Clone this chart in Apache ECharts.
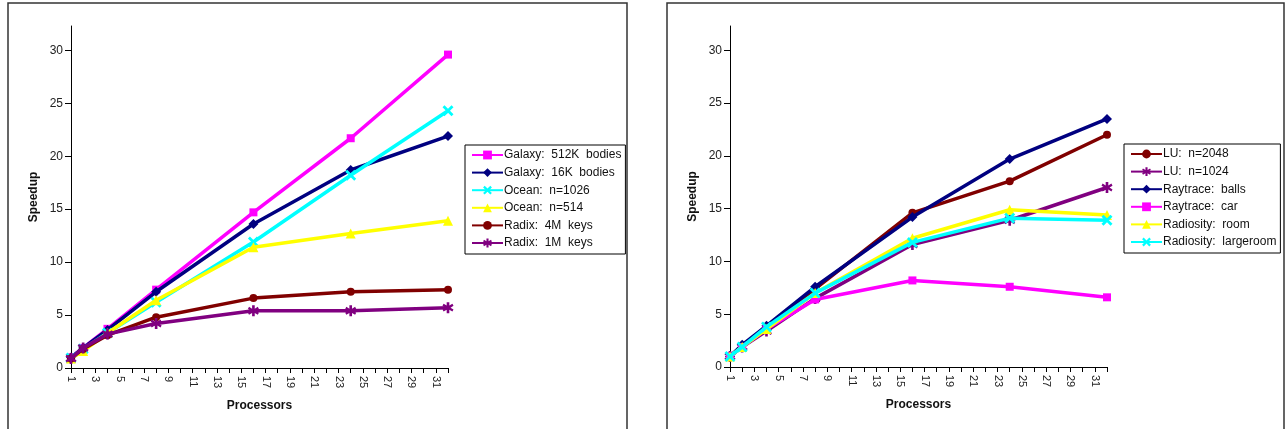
<!DOCTYPE html>
<html>
<head>
<meta charset="utf-8">
<script src="https://cdn.jsdelivr.net/npm/echarts@6/dist/echarts.min.js"></script>
<style>
html,body{margin:0;padding:0;background:#fff;}
#chart{width:1286px;height:429px;}
</style>
</head>
<body>
<div id="chart"></div>
<script>
// ---- data ----
const processors = [1, 2, 4, 8, 16, 24, 32];

const leftNames = ['Galaxy:  512K  bodies', 'Galaxy:  16K  bodies', 'Ocean:  n=1026', 'Ocean:  n=514', 'Radix:  4M  keys', 'Radix:  1M  keys'];
const galaxy512K = [1.0, 1.9, 3.7, 7.4, 14.7, 21.7, 29.6];
const galaxy16K  = [1.0, 1.9, 3.6, 7.2, 13.6, 18.7, 21.9];
const ocean1026  = [0.95, 1.8, 3.3, 6.2, 11.9, 18.2, 24.3];
const ocean514   = [0.9, 1.6, 3.3, 6.4, 11.4, 12.7, 13.9];
const radix4M    = [0.9, 1.8, 3.1, 4.8, 6.6, 7.2, 7.4];
const radix1M    = [0.9, 1.9, 3.2, 4.2, 5.4, 5.4, 5.7];

const rightNames = ['LU:  n=2048', 'LU:  n=1024', 'Raytrace:  balls', 'Raytrace:  car', 'Radiosity:  room', 'Radiosity:  largeroom'];
const lu2048        = [1.0, 2.0, 3.8, 7.4, 14.6, 17.6, 22.0];
const lu1024        = [1.0, 1.9, 3.4, 6.5, 11.6, 13.9, 17.0];
const raytraceBalls = [1.0, 2.1, 3.9, 7.6, 14.2, 19.7, 23.5];
const raytraceCar   = [1.0, 1.9, 3.6, 6.4, 8.2, 7.6, 6.6];
const radiosityRoom = [1.0, 1.9, 3.6, 7.0, 12.2, 14.9, 14.4];
const radiosityLarge= [1.0, 1.9, 3.8, 7.0, 11.8, 14.1, 13.9];

const yTicks = [0, 5, 10, 15, 20, 25, 30];
const xLabels = [1, 3, 5, 7, 9, 11, 13, 15, 17, 19, 21, 23, 25, 27, 29, 31];

// ---- styles ----
const FONT = '"Liberation Sans", Arial, sans-serif';
const SYM_X = 'path://M0,1.8 L1.8,0 L5,3.2 L8.2,0 L10,1.8 L6.8,5 L10,8.2 L8.2,10 L5,6.8 L1.8,10 L0,8.2 L3.2,5 Z';
const SYM_STAR = 'path://M3.8,0 L6.2,0 L6.2,3.1 L9,1.4 L10,3.3 L7.3,5 L10,6.7 L9,8.6 L6.2,6.9 L6.2,10 L3.8,10 L3.8,6.9 L1,8.6 L0,6.7 L2.7,5 L0,3.3 L1,1.4 L3.8,3.1 Z';

const leftStyles = [
  {color: '#FF00FF', symbol: 'rect', size: 8},
  {color: '#000080', symbol: 'diamond', size: 10},
  {color: '#00FFFF', symbol: SYM_X, size: 11},
  {color: '#FFFF00', symbol: 'triangle', size: 10},
  {color: '#800000', symbol: 'circle', size: 8},
  {color: '#800080', symbol: SYM_STAR, size: 11}
];
const rightStyles = [
  {color: '#800000', symbol: 'circle', size: 8},
  {color: '#800080', symbol: SYM_STAR, size: 11},
  {color: '#000080', symbol: 'diamond', size: 10},
  {color: '#FF00FF', symbol: 'rect', size: 8},
  {color: '#FFFF00', symbol: 'triangle', size: 10},
  {color: '#00FFFF', symbol: SYM_X, size: 11}
];
const leftData = [galaxy512K, galaxy16K, ocean1026, ocean514, radix4M, radix1M];
const rightData = [lu2048, lu1024, raytraceBalls, raytraceCar, radiosityRoom, radiosityLarge];

function mkSeries(names, datas, styles, idx) {
  return names.map((n, i) => ({
    name: n,
    type: 'line',
    xAxisIndex: idx, yAxisIndex: idx,
    data: processors.map((p, k) => [p, datas[i][k]]),
    symbol: styles[i].symbol,
    symbolSize: styles[i].size,
    showAllSymbol: true,
    lineStyle: {color: styles[i].color, width: 3.5},
    itemStyle: {color: styles[i].color},
    emphasis: {disabled: true},
    animation: false,
    z: 2 + i
  }));
}

function xAxis(idx) {
  return {
    type: 'value', gridIndex: idx, min: 1, max: 32, interval: 1,
    name: 'Processors', nameLocation: 'middle', nameGap: 32,
    nameTextStyle: {fontFamily: FONT, fontWeight: 'bold', fontSize: 12, color: '#111'},
    axisLine: {show: true, onZero: false, lineStyle: {color: '#000', width: 1}},
    axisTick: {show: true, length: 5, lineStyle: {color: '#000'}},
    axisLabel: {rotate: -90, margin: 8, fontFamily: FONT, fontSize: 11, color: '#222', customValues: xLabels},
    splitLine: {show: false}
  };
}
function yAxis(idx) {
  return {
    type: 'value', gridIndex: idx, min: 0, max: 32.3, interval: 5,
    name: 'Speedup', nameLocation: 'middle', nameGap: 31, nameRotate: 90,
    nameTextStyle: {fontFamily: FONT, fontWeight: 'bold', fontSize: 12, color: '#111'},
    axisLine: {show: true, lineStyle: {color: '#000', width: 1}},
    axisTick: {show: true, length: 6, lineStyle: {color: '#000'}, customValues: yTicks},
    axisLabel: {margin: 8, fontFamily: FONT, fontSize: 12, color: '#222', customValues: yTicks},
    splitLine: {show: false}
  };
}
function legend(names, left, top) {
  return {
    show: true, data: names, orient: 'vertical', left: left, top: top,
    itemWidth: 31, itemHeight: 11, itemGap: 5.6,
    padding: [4, 4, 5, 6],
    borderColor: '#000', borderWidth: 1, backgroundColor: '#fff',
    textStyle: {fontFamily: FONT, fontSize: 12, lineHeight: 12, color: '#111', padding: [0, 0, 0, -4]},
    selectedMode: false
  };
}

const chart = echarts.init(document.getElementById('chart'), null, {renderer: 'canvas'});
chart.setOption({
  animation: false,
  backgroundColor: '#fff',
  graphic: [
    {type: 'rect', shape: {x: 8, y: 3, width: 619, height: 500}, style: {fill: 'none', stroke: '#333', lineWidth: 1.5}, silent: true},
    {type: 'rect', shape: {x: 667, y: 3, width: 617, height: 500}, style: {fill: 'none', stroke: '#333', lineWidth: 1.5}, silent: true}
  ],
  grid: [
    {left: 71, top: 26, width: 377, height: 342},
    {left: 730, top: 26, width: 377, height: 341}
  ],
  xAxis: [xAxis(0), xAxis(1)],
  yAxis: [yAxis(0), yAxis(1)],
  legend: [legend(leftNames, 465, 145), legend(rightNames, 1124, 144)],
  series: mkSeries(leftNames, leftData, leftStyles, 0).concat(mkSeries(rightNames, rightData, rightStyles, 1))
});
</script>
</body>
</html>
